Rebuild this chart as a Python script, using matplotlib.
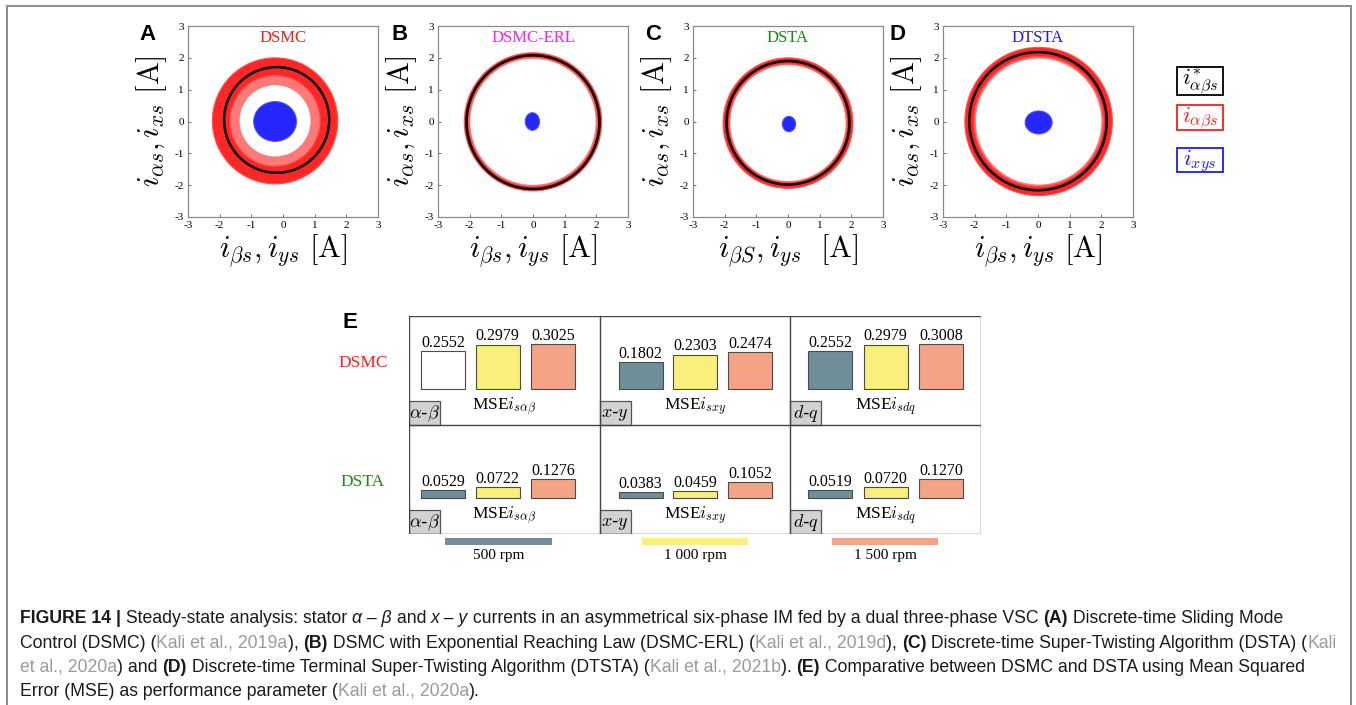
import matplotlib
matplotlib.use("Agg")
import matplotlib.pyplot as plt
import matplotlib.patches as mpatches
from matplotlib import font_manager

W, H = 1356, 705

# ---- panels A-D : current trajectories ----
panel_letters = ["A", "B", "C", "D"]
panel_titles = ["DSMC", "DSMC-ERL", "DSTA", "DTSTA"]
title_colors = ["#ff1a1a", "#ff1aff", "#138a13", "#1a1aff"]
xlabels = [r"$i_{\beta s}, i_{ys}\ \mathrm{[A]}$", r"$i_{\beta s}, i_{ys}\ \mathrm{[A]}$",
           r"$i_{\beta S}, i_{ys}\ \ \mathrm{[A]}$", r"$i_{\beta s}, i_{ys}\ \mathrm{[A]}$"]
ylabel = r"$i_{\alpha s}, i_{xs}\ \mathrm{[A]}$"
ticks = [-3, -2, -1, 0, 1, 2, 3]

# reference current i*_ab (black circle)
ref_center = [(-0.2, 0.05), (0.0, -0.02), (0.0, -0.04), (0.0, 0.01)]
ref_radius = [1.66, 2.10, 1.94, 2.17]
# measured i_ab (red band): dense part and sparse inner part
red_center = [(-0.25, 0.02), (0.0, -0.01), (0.0, -0.05), (0.02, 0.0)]
red_inner = [1.42, 2.03, 1.86, 2.04]
red_outer = [1.98, 2.17, 2.05, 2.33]
red_sparse_inner = [1.12, 1.98, 1.82, 1.98]
# x-y currents (blue cloud)
blue_center = [(-0.25, 0.0), (-0.02, 0.0), (0.03, -0.08), (0.02, -0.03)]
blue_width = [1.35, 0.45, 0.42, 0.85]
blue_height = [1.25, 0.55, 0.48, 0.72]

legend_labels = [r"$i^{*}_{\alpha\beta s}$", r"$i_{\alpha\beta s}$", r"$i_{xys}$"]
legend_colors = ["black", "#ff1a1a", "#1a1aff"]

# ---- panel E : MSE comparison ----
frames = [r"$\alpha$-$\beta$", r"$x$-$y$", r"$d$-$q$"]
mse_names = [r"MSE$i_{s\alpha\beta}$", r"MSE$i_{sxy}$", r"MSE$i_{sdq}$"]
controllers = ["DSMC", "DSTA"]
controller_colors = ["#ff1a1a", "#138a13"]
mse_dsmc = [[0.2552, 0.2979, 0.3025], [0.1802, 0.2303, 0.2474], [0.2552, 0.2979, 0.3008]]
mse_dsta = [[0.0529, 0.0722, 0.1276], [0.0383, 0.0459, 0.1052], [0.0519, 0.0720, 0.1270]]
speeds = ["500 rpm", "1 000 rpm", "1 500 rpm"]
speed_colors = ["#6f8e99", "#f8ef7c", "#f4a387"]

plt.rcParams["mathtext.fontset"] = "cm"
plt.rcParams["axes.unicode_minus"] = False
serif = ["Liberation Serif", "DejaVu Serif"]

fig = plt.figure(figsize=(W / 100, H / 100), dpi=100)
fig.patch.set_facecolor("white")


def add_px_axes(x0, y0, x1, y1):
    return fig.add_axes([x0 / W, 1 - y1 / H, (x1 - x0) / W, (y1 - y0) / H])


def ftext(x, y, s, **kw):
    return fig.text(x / W, 1 - y / H, s, **kw)


def px_rect(x0, y0, x1, y1, **kw):
    fig.add_artist(mpatches.Rectangle((x0 / W, 1 - y1 / H), (x1 - x0) / W,
                                      (y1 - y0) / H, transform=fig.transFigure, **kw))


# outer frame of the figure
fig.add_artist(mpatches.Rectangle((7 / W, -0.02), (1351 - 7) / W, 1.02 - 6 / H,
                                  transform=fig.transFigure, fill=False,
                                  ec="#8a8a8a", lw=1.4))

# ---- A-D ----
lefts = [188, 438, 693, 943]
letter_x = [147, 400, 653, 898]
for k in range(4):
    ax = add_px_axes(lefts[k], 26, lefts[k] + 190, 217)
    ax.set_xlim(-3, 3)
    ax.set_ylim(-3, 3)
    ax.add_patch(mpatches.Wedge(red_center[k], red_inner[k], 0, 360,
                                width=red_inner[k] - red_sparse_inner[k],
                                fc="#ff2020", ec="none", alpha=0.6))
    ax.add_patch(mpatches.Wedge(red_center[k], red_outer[k], 0, 360,
                                width=red_outer[k] - red_inner[k],
                                fc="#ff1a1a", ec="#ff5050", lw=0.8, alpha=0.95))
    ax.add_patch(mpatches.Ellipse(blue_center[k], blue_width[k], blue_height[k],
                                  fc="#1a1aff", ec="#4a4aff", lw=0.8, alpha=0.95))
    ax.add_patch(mpatches.Circle(ref_center[k], ref_radius[k], fill=False,
                                 ec="black", lw=1.8))
    ax.set_xticks(ticks)
    ax.set_yticks(ticks)
    ax.tick_params(direction="in", length=2, width=0.6, labelsize=8, pad=3,
                   color="#555555")
    for lab in ax.get_xticklabels() + ax.get_yticklabels():
        lab.set_family(serif)
    for sp in ax.spines.values():
        sp.set_color("#8a8a8a")
        sp.set_linewidth(0.9)
    ax.text(0.5, 0.935, panel_titles[k], transform=ax.transAxes, ha="center",
            va="center", color=title_colors[k], fontsize=12, family=serif)
    ax.text(0.5, -0.175, xlabels[k], transform=ax.transAxes, ha="center",
            va="center", fontsize=22)
    ax.text(-0.19, 0.5, ylabel, transform=ax.transAxes, ha="center",
            va="center", fontsize=22, rotation=90)
    ftext(letter_x[k], 35, panel_letters[k], fontsize=16, weight="bold",
          family="Liberation Sans", ha="center", va="center")

# legend: three framed labels of equal width
legend_box_y = [(67, 95), (105, 130), (148, 172)]
for lab, col, (y0, y1) in zip(legend_labels, legend_colors, legend_box_y):
    px_rect(1177, y0, 1223, y1, fill=False, ec=col, lw=1.3)
    ftext(1200, (y0 + y1) / 2 + 1, lab, color=col, fontsize=16.5, ha="center",
          va="center")

# ---- E ----
axe = add_px_axes(409, 316, 981, 534)
axe.set_xlim(0, 3)
axe.set_ylim(0, 2)
axe.axis("off")
line_kw = dict(color="#444444", lw=1.0, solid_capstyle="butt")
axe.plot([0, 3, 3, 0, 0], [0, 0, 2, 2, 0], **line_kw)
axe.plot([1, 1], [0, 2], **line_kw)
axe.plot([2, 2], [0, 2], **line_kw)
axe.plot([0, 3], [1, 1], **line_kw)

bar_offsets = [[0.18, 0.465, 0.755], [0.215, 0.5, 0.79], [0.21, 0.5, 0.79]]
bar_w = 0.232
scale = 1.36  # row heights per MSE unit
for r, rows in enumerate([mse_dsmc, mse_dsta]):
    base = 1 - r
    for c in range(3):
        vals = rows[c]
        xs = [c + o for o in bar_offsets[c]]
        fcs = list(speed_colors)
        if r == 0 and c == 0:
            fcs[0] = "white"  # first bar is left unfilled in the original
        axe.bar(xs, [v * scale for v in vals], width=bar_w, bottom=base + 0.33,
                color=fcs, edgecolor="#4a4a4a", lw=0.8)
        for x, v in zip(xs, vals):
            axe.text(x, base + 0.33 + v * scale + 0.005, f"{v:.4f}", ha="center",
                     va="bottom", fontsize=11.5, family=serif)
        axe.text(c + 0.5, base + 0.165, mse_names[c], ha="center", va="center",
                 fontsize=12.5, family=serif)
        axe.add_patch(mpatches.Rectangle((c, base), 0.163, 0.22, fc="#d2d2d4",
                                         ec="#555555", lw=0.9))
        axe.text(c + 0.0815, base + 0.105, frames[c], ha="center", va="center",
                 fontsize=13)

ftext(350, 322, "E", fontsize=16, weight="bold", family="Liberation Sans",
      ha="center", va="center")
for name, col, y in zip(controllers, controller_colors, [363, 482]):
    ftext(363, y, name, color=col, fontsize=12.5, family=serif, ha="center",
          va="center")

speed_x = [(445, 552), (642, 748), (832, 938)]
for (x0, x1), lab, col in zip(speed_x, speeds, speed_colors):
    px_rect(x0, 538, x1, 545, fc=col, ec="none")
    ftext((x0 + x1) / 2, 556, lab, fontsize=11, family=serif, ha="center",
          va="center")

# ---- caption ----
cap_family = ["Liberation Sans", "DejaVu Sans"]

caption = [
    [("FIGURE 14 |", "b"), (" Steady-state analysis: stator ", ""), ("α – β", "i"),
     (" and ", ""), ("x – y", "i"),
     (" currents in an asymmetrical six-phase IM fed by a dual three-phase VSC ", ""),
     ("(A)", "b"), (" Discrete-time Sliding Mode", "")],
    [("Control (DSMC) (", ""), ("Kali et al., 2019a", "g"), ("), ", ""), ("(B)", "b"),
     (" DSMC with Exponential Reaching Law (DSMC-ERL) (", ""), ("Kali et al., 2019d", "g"),
     ("), ", ""), ("(C)", "b"), (" Discrete-time Super-Twisting Algorithm (DSTA) (", ""),
     ("Kali", "g")],
    [("et al., 2020a", "g"), (") and ", ""), ("(D)", "b"),
     (" Discrete-time Terminal Super-Twisting Algorithm (DTSTA) (", ""),
     ("Kali et al., 2021b", "g"), ("). ", ""), ("(E)", "b"),
     (" Comparative between DSMC and DSTA using Mean Squared", "")],
    [("Error (MSE) as performance parameter (", ""), ("Kali et al., 2020a", "g"), (").", "")],
]

renderer = fig.canvas.get_renderer()


def seg_props(style, size):
    return font_manager.FontProperties(
        family=cap_family, size=size,
        weight="bold" if "b" in style else "normal",
        style="italic" if "i" in style else "normal")


def seg_width(text, style, size):
    fp = seg_props(style, size)
    w1, _, _ = renderer.get_text_width_height_descent("x" + text + "x", fp, ismath=False)
    w0, _, _ = renderer.get_text_width_height_descent("xx", fp, ismath=False)
    return w1 - w0


ref_size = 12.0
line1_w = sum(seg_width(t, s, ref_size) for t, s in caption[0])
cap_size = ref_size * (1288 - 20) / line1_w

baselines = [623, 648, 672, 696]
for segs, yb in zip(caption, baselines):
    x = 20
    for text, style in segs:
        ftext(x, yb, text, fontproperties=seg_props(style, cap_size),
              color="#9a9a9a" if "g" in style else "#1a1a1a",
              ha="left", va="baseline")
        x += seg_width(text, style, cap_size)

fig.savefig("out.png", dpi=100, facecolor="white")
